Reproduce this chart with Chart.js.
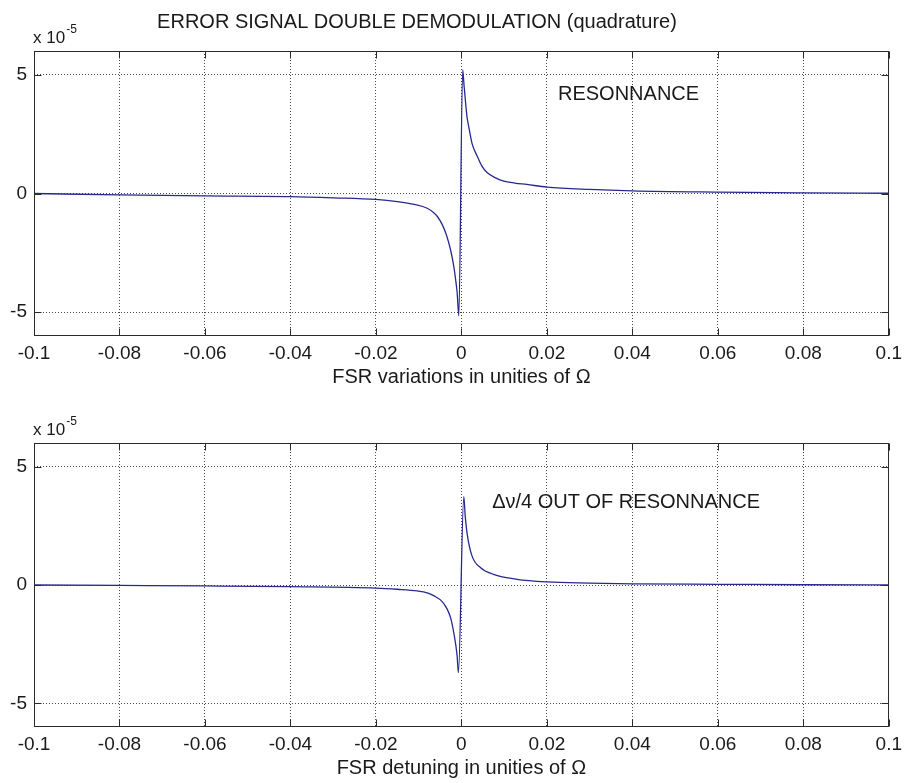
<!DOCTYPE html>
<html>
<head>
<meta charset="utf-8">
<script src="https://cdn.jsdelivr.net/npm/chart.js@4/dist/chart.umd.min.js"></script>
<style>
  html, body { margin: 0; padding: 0; background: #fff; }
  .panel { position: absolute; left: 0; width: 908px; }
</style>
</head>
<body>
<div class="panel" style="top:0;height:392px"><canvas id="top-chart" width="908" height="392"></canvas></div>
<div class="panel" style="top:392px;height:391px"><canvas id="bottom-chart" width="908" height="391"></canvas></div>
<script>
// Error signal, double demodulation (quadrature) - values in units of 1e-5

// x ticks (FSR in unities of Omega)
const xTicks = [-0.1, -0.08, -0.06, -0.04, -0.02, 0, 0.02, 0.04, 0.06, 0.08, 0.1];
const xTickLabels = ['-0.1', '-0.08', '-0.06', '-0.04', '-0.02', '0', '0.02', '0.04', '0.06', '0.08', '0.1'];
const yTicks = [-5, 0, 5];
const yTickLabels = ['-5', '0', '5'];

// top panel: resonance
const resX = [-0.1, -0.08, -0.06, -0.04, -0.03, -0.02, -0.015, -0.011, -0.008, -0.0064, -0.0055, -0.0045,
    -0.0035, -0.0025, -0.0018, -0.0013, -0.001, -0.0006, 0.0003, 0.0006, 0.0013, 0.0017, 0.0025, 0.0037,
    0.0048, 0.006, 0.008, 0.0099, 0.0125, 0.0153, 0.02, 0.03, 0.04, 0.06, 0.08, 0.1];
const resY = [0, -0.06, -0.1, -0.13, -0.18, -0.25, -0.34, -0.46, -0.62, -0.82, -1.0, -1.3,
    -1.75, -2.4, -3.05, -3.7, -4.17, -5.15, 5.2, 4.6, 3.25, 2.83, 2.1, 1.57,
    1.15, 0.88, 0.66, 0.52, 0.44, 0.38, 0.27, 0.17, 0.11, 0.06, 0.03, 0.01];

// bottom panel: dnu/4 out of resonance
const detX = [-0.1, -0.08, -0.06, -0.04, -0.02, -0.015, -0.0103, -0.008, -0.0064, -0.0045, -0.0033, -0.0025,
    -0.0018, -0.0013, -0.001, -0.0007, 0.00056, 0.0009, 0.0014, 0.0025, 0.0045, 0.0075, 0.013, 0.02,
    0.03, 0.04, 0.06, 0.08, 0.1];
const detY = [0, -0.02, -0.04, -0.07, -0.13, -0.18, -0.25, -0.33, -0.46, -0.7, -1.03, -1.4,
    -2.0, -2.55, -3.0, -3.7, 3.73, 2.9, 2.1, 1.22, 0.73, 0.45, 0.24, 0.13,
    0.08, 0.05, 0.03, 0.01, 0];

const FONT = 'Liberation Sans, Arial, Helvetica, sans-serif';
const INK = '#1a1a1a';

// box, inward ticks on all four sides and free texts (matlab look)
const matlabAxes = {
    id: 'matlabAxes',
    afterDatasetsDraw(chart, args, opts) {
        const { ctx, chartArea: a, scales: { x, y } } = chart;
        ctx.save();
        ctx.strokeStyle = '#2a2a2a';
        ctx.lineWidth = 1;
        ctx.setLineDash([]);
        const L = Math.round(a.left) + 0.5, R = Math.round(a.right) - 0.5;
        const T = Math.round(a.top) + 0.5, B = Math.round(a.bottom) - 0.5;
        ctx.strokeRect(L, T, R - L, B - T);
        ctx.beginPath();
        xTicks.forEach(v => {
            const px = Math.round(x.getPixelForValue(v)) + 0.5;
            ctx.moveTo(px, B); ctx.lineTo(px, B - 7);
            ctx.moveTo(px, T); ctx.lineTo(px, T + 7);
        });
        yTicks.forEach(v => {
            const py = Math.round(y.getPixelForValue(v)) + 0.5;
            ctx.moveTo(L, py); ctx.lineTo(L + 7, py);
            ctx.moveTo(R, py); ctx.lineTo(R - 7, py);
        });
        ctx.stroke();

        // exponent label
        ctx.fillStyle = INK;
        ctx.textBaseline = 'middle';
        ctx.textAlign = 'left';
        ctx.font = '17px ' + FONT;
        ctx.fillText('x 10', 33, a.top - 13);
        const w = ctx.measureText('x 10').width;
        ctx.font = '12px ' + FONT;
        ctx.fillText('-5', 33 + w + 1, a.top - 21);

        (opts.texts || []).forEach(t => {
            ctx.font = t.size + 'px ' + FONT;
            ctx.textAlign = t.align || 'left';
            const px = t.data ? x.getPixelForValue(t.x) : t.x;
            const py = t.data ? y.getPixelForValue(t.y) : t.y;
            ctx.fillText(t.text, px, py);
        });
        ctx.restore();
    }
};

function makeChart(id, xs, ys, xTitle, texts) {
    const points = xs.map((v, i) => ({ x: v, y: ys[i] }));
    return new Chart(document.getElementById(id), {
        type: 'line',
        data: {
            datasets: [{
                data: points,
                borderColor: '#28288f',
                borderWidth: 1.3,
                pointRadius: 0,
                cubicInterpolationMode: 'monotone',
                fill: false
            }]
        },
        options: {
            responsive: false,
            animation: false,
            layout: { padding: { left: 0, right: 15, top: 51, bottom: 0 } },
            plugins: {
                legend: { display: false },
                tooltip: { enabled: false },
                matlabAxes: { texts: texts }
            },
            scales: {
                x: {
                    type: 'linear',
                    min: -0.1,
                    max: 0.1,
                    afterBuildTicks: s => { s.ticks = xTicks.map(v => ({ value: v })); },
                    afterFit: s => { s.height = 56; },
                    ticks: {
                        callback: (v, i) => xTickLabels[i],
                        color: INK,
                        font: { family: FONT, size: 19 },
                        padding: 6,
                        maxRotation: 0,
                        autoSkip: false
                    },
                    grid: { color: '#4a4a4a', lineWidth: 1, drawTicks: false },
                    border: { display: false, dash: [1, 2] },
                    title: {
                        display: true,
                        text: xTitle,
                        color: INK,
                        font: { family: FONT, size: 20 },
                        padding: { top: 0, bottom: 3 }
                    }
                },
                y: {
                    type: 'linear',
                    min: -6,
                    max: 6,
                    afterBuildTicks: s => { s.ticks = yTicks.map(v => ({ value: v })); },
                    afterFit: s => { s.width = 34; },
                    ticks: {
                        callback: (v, i) => yTickLabels[i],
                        color: INK,
                        font: { family: FONT, size: 19 },
                        padding: 7
                    },
                    grid: { color: '#4a4a4a', lineWidth: 1, drawTicks: false },
                    border: { display: false, dash: [1, 2] }
                }
            }
        },
        plugins: [matlabAxes]
    });
}

makeChart('top-chart', resX, resY, 'FSR variations in unities of \u03A9', [
    { text: 'ERROR SIGNAL DOUBLE DEMODULATION (quadrature)', x: 417, y: 22, size: 20, align: 'center' },
    { text: 'RESONNANCE', x: 0.0226, y: 4.16, size: 20, data: true }
]);

makeChart('bottom-chart', detX, detY, 'FSR detuning in unities of \u03A9', [
    { text: '\u0394\u03BD/4 OUT OF RESONNANCE', x: 0.0072, y: 3.5, size: 20, data: true }
]);
</script>
</body>
</html>
